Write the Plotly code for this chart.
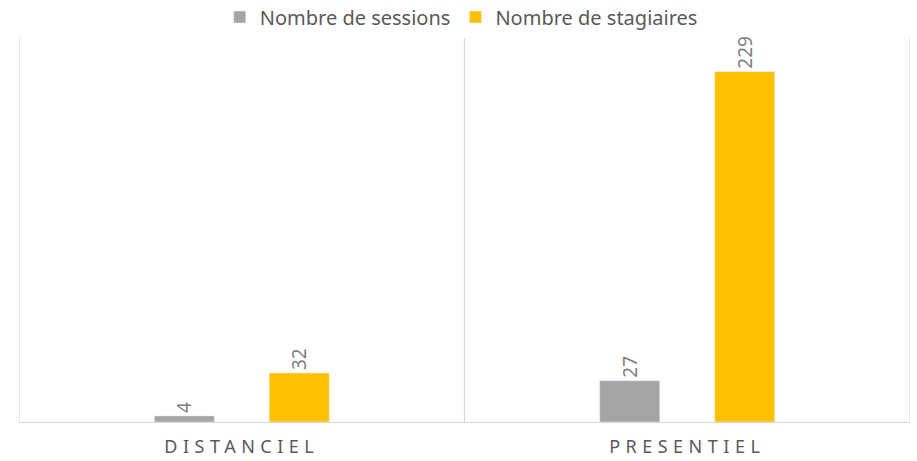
import plotly.graph_objects as go

categories = ["DISTANCIEL", "PRESENTIEL"]
sessions = [4, 27]
stagiaires = [32, 229]

font_family = "Noto Sans, Open Sans, sans-serif"

fig = go.Figure()
fig.add_trace(go.Bar(
    x=categories, y=sessions, name="Nombre de sessions",
    marker_color="#a5a5a5", text=sessions, textposition="outside",
    textangle=-90, textfont=dict(color="#7f7f7f", size=19, family=font_family),
    cliponaxis=False,
))
fig.add_trace(go.Bar(
    x=categories, y=stagiaires, name="Nombre de stagiaires",
    marker_color="#ffc000", text=stagiaires, textposition="outside",
    textangle=-90, textfont=dict(color="#7f7f7f", size=19, family=font_family),
    cliponaxis=False,
))

# category boundary lines
for xb in [-0.5, 0.5, 1.5]:
    fig.add_shape(type="line", xref="x", yref="paper", x0=xb, x1=xb, y0=0, y1=1,
                  line=dict(color="#d9d9d9", width=1.2), layer="below")

fig.update_layout(
    width=917, height=461,
    margin=dict(l=19, r=7, t=38, b=39, autoexpand=False),
    paper_bgcolor="white", plot_bgcolor="white",
    barmode="group", bargap=0.484, bargroupgap=0.478,
    font=dict(family=font_family, color="#595959"),
    showlegend=True,
    legend=dict(orientation="h", x=0.503, xanchor="center", y=0.963, yanchor="middle",
                xref="container", yref="container",
                font=dict(size=20, color="#595959"), itemwidth=30,
                traceorder="normal"),
    xaxis=dict(
        type="category", showgrid=False, ticks="", showline=True, linecolor="#d9d9d9",
        linewidth=1.2, automargin=False, ticklabelstandoff=8,
        tickfont=dict(size=18, color="#595959", family=font_family),
        range=[-0.5, 1.5],
    ),
    yaxis=dict(
        range=[0, 251], showgrid=False, showticklabels=False, zeroline=False,
        ticks="", showline=False, automargin=False,
    ),
)

post = """
document.body.style.margin='0';
document.querySelectorAll('.xtick text').forEach(function(t){
  t.style.letterSpacing='5.5px';
});
"""
fig.write_html("out.html", post_script=post, config={"displayModeBar": False})
